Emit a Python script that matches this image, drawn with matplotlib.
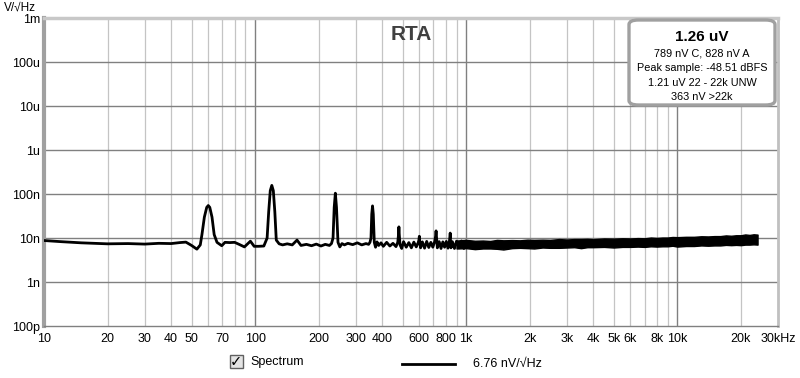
import matplotlib
matplotlib.use("Agg")
import matplotlib.pyplot as plt
from matplotlib.patches import FancyBboxPatch, Rectangle
from matplotlib.lines import Line2D
import numpy as np

plt.rcParams['font.family'] = ['Liberation Sans', 'DejaVu Sans']

# ---- data ----
# spectrum line (Hz, nV/sqrt(Hz)) up to ~1 kHz
freq_hz = [10, 12, 15, 20, 25, 30, 35, 40, 44, 47, 50, 53, 55, 56, 57.5, 59, 60, 61, 62.5, 64,
           66, 69.5, 72, 76, 80, 84, 89, 95, 99, 104, 110, 114, 116, 118, 120, 122, 124, 126,
           130, 135, 142, 150, 158, 165, 175, 185, 195, 205, 215, 225, 230, 234, 237, 240, 243,
           247, 252, 258, 265, 275, 290, 305, 320, 335, 345, 350, 354, 357, 360, 363, 367, 372,
           378, 385, 395, 405, 420, 435, 450, 465, 474, 478, 480, 482, 486, 495, 505, 520, 535,
           550, 565, 580, 592, 597, 600, 603, 608, 620, 635, 650, 665, 680, 695, 710, 716, 720,
           724, 730, 745, 760, 775, 790, 805, 820, 833, 838, 840, 842, 847, 860, 880, 900, 925,
           950, 975, 1000]
spectrum_nv = [8.8, 8.3, 7.8, 7.4, 7.5, 7.3, 7.6, 7.5, 7.9, 8.1, 6.8, 5.6, 7.0, 12, 30, 50, 55, 50, 30, 12,
               8.0, 6.7, 8.0, 7.9, 8.0, 7.2, 6.3, 8.5, 6.5, 6.5, 6.6, 10, 40, 120, 158, 120, 40, 9,
               7.4, 7.0, 7.4, 7.0, 9.0, 6.8, 7.2, 6.7, 7.3, 6.6, 7.2, 6.8, 7.5, 10, 50, 105, 50,
               8, 6.3, 7.5, 7.0, 7.6, 7.1, 7.8, 7.0, 7.5, 7.2, 8.0, 10, 35, 54, 35, 8, 6.2,
               8.2, 6.8, 7.8, 6.5, 8.0, 6.6, 7.6, 6.4, 8.0, 12, 18, 12, 7.0, 5.8, 8.3, 6.2, 7.9,
               6.0, 8.1, 6.3, 7.8, 9, 11, 8.0, 6.0, 8.2, 5.9, 8.4, 6.1, 8.0, 6.2, 8.5, 11, 14.6,
               10, 6.0, 8.3, 5.8, 8.2, 6.2, 8.4, 5.9, 8.6, 11, 13, 9.5, 6.0, 8.3, 5.8, 8.5, 6.0,
               8.6, 5.8, 8.4]

# dense noise band above 1 kHz: lower / upper envelope (nV/sqrt(Hz))
band_hz = [900, 1000, 1100, 1200, 1300, 1400, 1500, 1650, 1800, 1950, 2100, 2300, 2500, 2750,
           3000, 3250, 3500, 3750, 4000, 4500, 5000, 5500, 6000, 6500, 7000, 7500, 8000, 8500,
           9000, 9500, 10000, 11000, 12000, 13000, 14000, 15000, 16000, 17000, 18000, 19000,
           20000, 21000, 22000, 23000, 24000]
band_low_nv = [5.8, 5.9, 5.6, 5.8, 5.8, 5.7, 5.5, 5.9, 6.0, 5.9, 5.8, 6.1, 6.0, 6.0, 6.1,
               6.2, 5.9, 6.2, 6.2, 6.3, 6.1, 6.3, 6.3, 6.4, 6.3, 6.5, 6.4, 6.5, 6.5, 6.7,
               6.4, 6.6, 6.6, 6.8, 6.7, 6.8, 6.8, 7.0, 6.9, 7.0, 6.9, 7.1, 7.1, 7.2, 7.1]
band_high_nv = [8.8, 9.1, 8.7, 8.8, 8.6, 9.1, 8.9, 9.0, 8.9, 9.2, 9.1, 9.2, 9.1, 9.5, 9.3,
                9.5, 9.5, 9.6, 9.4, 9.8, 9.7, 9.9, 9.8, 10.0, 9.9, 10.3, 10.1, 10.3, 10.3,
                10.6, 10.5, 10.7, 10.7, 11.0, 10.9, 11.1, 11.1, 11.5, 11.3, 11.6, 11.6, 12.1,
                11.8, 12.2, 12.0]

xtick_vals = [10, 20, 30, 40, 50, 70, 100, 200, 300, 400, 600, 800, 1000, 2000, 3000,
              4000, 5000, 6000, 8000, 10000, 20000, 30000]
xtick_labels = ['10', '20', '30', '40', '50', '70', '100', '200', '300', '400', '600', '800',
                '1k', '2k', '3k', '4k', '5k', '6k', '8k', '10k', '20k', '30kHz']
ytick_vals = [1e-3, 1e-4, 1e-5, 1e-6, 1e-7, 1e-8, 1e-9, 1e-10]
ytick_labels = ['1m', '100u', '10u', '1u', '100n', '10n', '1n', '100p']

info_lines = ['789 nV C, 828 nV A', 'Peak sample: -48.51 dBFS',
              '1.21 uV 22 - 22k UNW', '363 nV >22k']

# ---- figure ----
fig = plt.figure(figsize=(8, 3.78), dpi=100)
ax = fig.add_axes([44/800, 1 - 326/378, (778 - 44)/800, (326 - 18.3)/378])
ax.set_xscale('log')
ax.set_yscale('log')
ax.set_xlim(10, 30000)
ax.set_ylim(1e-10, 1e-3)

# grid
minor_x = [m * 10**d for d in range(1, 5) for m in range(2, 10) if m * 10**d < 30000]
for xv in minor_x:
    ax.axvline(xv, color='#c4c4c4', lw=0.9, zorder=0)
for xv in [100, 1000, 10000]:
    ax.axvline(xv, color='#808080', lw=1.0, zorder=0)
for yv in ytick_vals[1:-1]:
    ax.axhline(yv, color='#808080', lw=1.0, zorder=0)

ax.set_xticks(xtick_vals)
ax.set_xticklabels(xtick_labels)
ax.set_xticks([], minor=True)
ax.set_yticks(ytick_vals)
ax.set_yticklabels(ytick_labels)
ax.set_yticks([], minor=True)
ax.tick_params(axis='both', length=0, labelsize=9, colors='#000000')
ax.tick_params(axis='x', pad=5)
ax.tick_params(axis='y', pad=3)

for side, (c, w) in {'left': ('#a0a0a0', 3), 'top': ('#c8c8c8', 2.5),
                     'right': ('#c0c0c0', 2), 'bottom': ('#808080', 1)}.items():
    ax.spines[side].set_color(c)
    ax.spines[side].set_linewidth(w)

# data
f = np.array(freq_hz)
v = np.array(spectrum_nv) * 1e-9
ax.plot(f, v, color='black', lw=2.0, zorder=3, solid_joinstyle='round')
bf = np.array(band_hz)
ax.fill_between(bf, np.array(band_low_nv) * 1e-9, np.array(band_high_nv) * 1e-9,
                color='black', lw=1.0, edgecolor='black', zorder=3)

# title
fig.text(411/800, 1 - 34/378, 'RTA', ha='center', va='center',
         fontsize=15, fontweight='bold', color='#404040', zorder=5)

# info box
box = FancyBboxPatch((629/800, 1 - 105/378), (775 - 629)/800, (105 - 20)/378,
                     boxstyle='round,pad=0,rounding_size=0.012', transform=fig.transFigure,
                     facecolor='white', edgecolor='#a0a0a0', lw=2.4, zorder=6)
fig.patches.append(box)
fig.text(702/800, 1 - 37/378, '1.26 uV', ha='center', va='center', fontsize=11,
         fontweight='bold', color='black', zorder=7)
for i, t in enumerate(info_lines):
    fig.text(702/800, 1 - (54 + i * 14.4)/378, t, ha='center', va='center', fontsize=7.8,
             color='black', zorder=7)

# unit label
fig.text(4/800, 1 - 8/378, 'V/√Hz', ha='left', va='center', fontsize=8.5)

# legend
cb = Rectangle((229.5/800, 1 - 368/378), 13/800, 13/378, transform=fig.transFigure,
               facecolor='#e4e4e4', edgecolor='#606060', lw=1)
fig.patches.append(cb)
fig.text(236/800, 1 - 361.5/378, '✓', ha='center', va='center', fontsize=10.5,
         fontweight='bold', color='black', family=['DejaVu Sans'])
fig.text(250/800, 1 - 362/378, 'Spectrum', ha='left', va='center', fontsize=9)
fig.lines.append(Line2D([402/800, 455/800], [1 - 364/378, 1 - 364/378],
                        transform=fig.transFigure, color='black', lw=2))
fig.text(473/800, 1 - 364/378, '6.76 nV/√Hz', ha='left', va='center', fontsize=9)

fig.savefig('out.png', dpi=100)
